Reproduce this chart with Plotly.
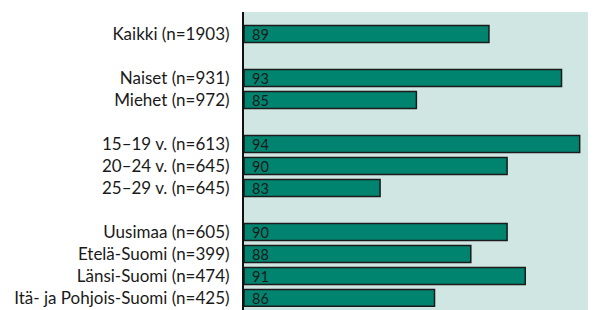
import plotly.graph_objects as go

categories = ["Kaikki (n=1903)", "Naiset (n=931)", "Miehet (n=972)",
              "15–19 v. (n=613)", "20–24 v. (n=645)", "25–29 v. (n=645)",
              "Uusimaa (n=605)", "Etelä-Suomi (n=399)", "Länsi-Suomi (n=474)",
              "Itä- ja Pohjois-Suomi (n=425)"]
values = [89, 93, 85, 94, 90, 83, 90, 88, 91, 86]
# row slots (gaps between groups)
slots = [0, 2, 3, 5, 6, 7, 9, 10, 11, 12]

X_MIN, X_MAX = 75.5, 94.9
BAR = "#00846f"
BG = "#cfe6e3"
FONT = "Lato"

fig = go.Figure()
fig.add_trace(go.Bar(
    x=[v - X_MIN for v in values], base=X_MIN, y=slots, orientation="h",
    width=0.77,
    marker=dict(color=BAR, line=dict(color="#1a1a1a", width=1.5)),
    hoverinfo="skip",
))

for v, s in zip(values, slots):
    fig.add_annotation(x=X_MIN, y=s, text=str(v), showarrow=False,
                       xanchor="left", xshift=6, yshift=-1,
                       font=dict(family=FONT, size=14.5, color="#1a1a1a"))

fig.update_layout(
    width=588, height=302,
    margin=dict(l=236, r=0, t=4, b=0),
    paper_bgcolor="white", plot_bgcolor=BG,
    showlegend=False,
    font=dict(family=FONT, size=17, color="#1a1a1a"),
    xaxis=dict(range=[X_MIN, X_MAX], visible=False, showgrid=False, zeroline=False),
    yaxis=dict(range=[12.55, -1], tickvals=slots, ticktext=categories,
               showgrid=False, zeroline=False, ticks="",
               showline=True, linecolor="#111111", linewidth=2,
               ticklabelstandoff=9,
               tickfont=dict(family=FONT, size=17, color="#1a1a1a")),
)

fig.write_html("out.html")
